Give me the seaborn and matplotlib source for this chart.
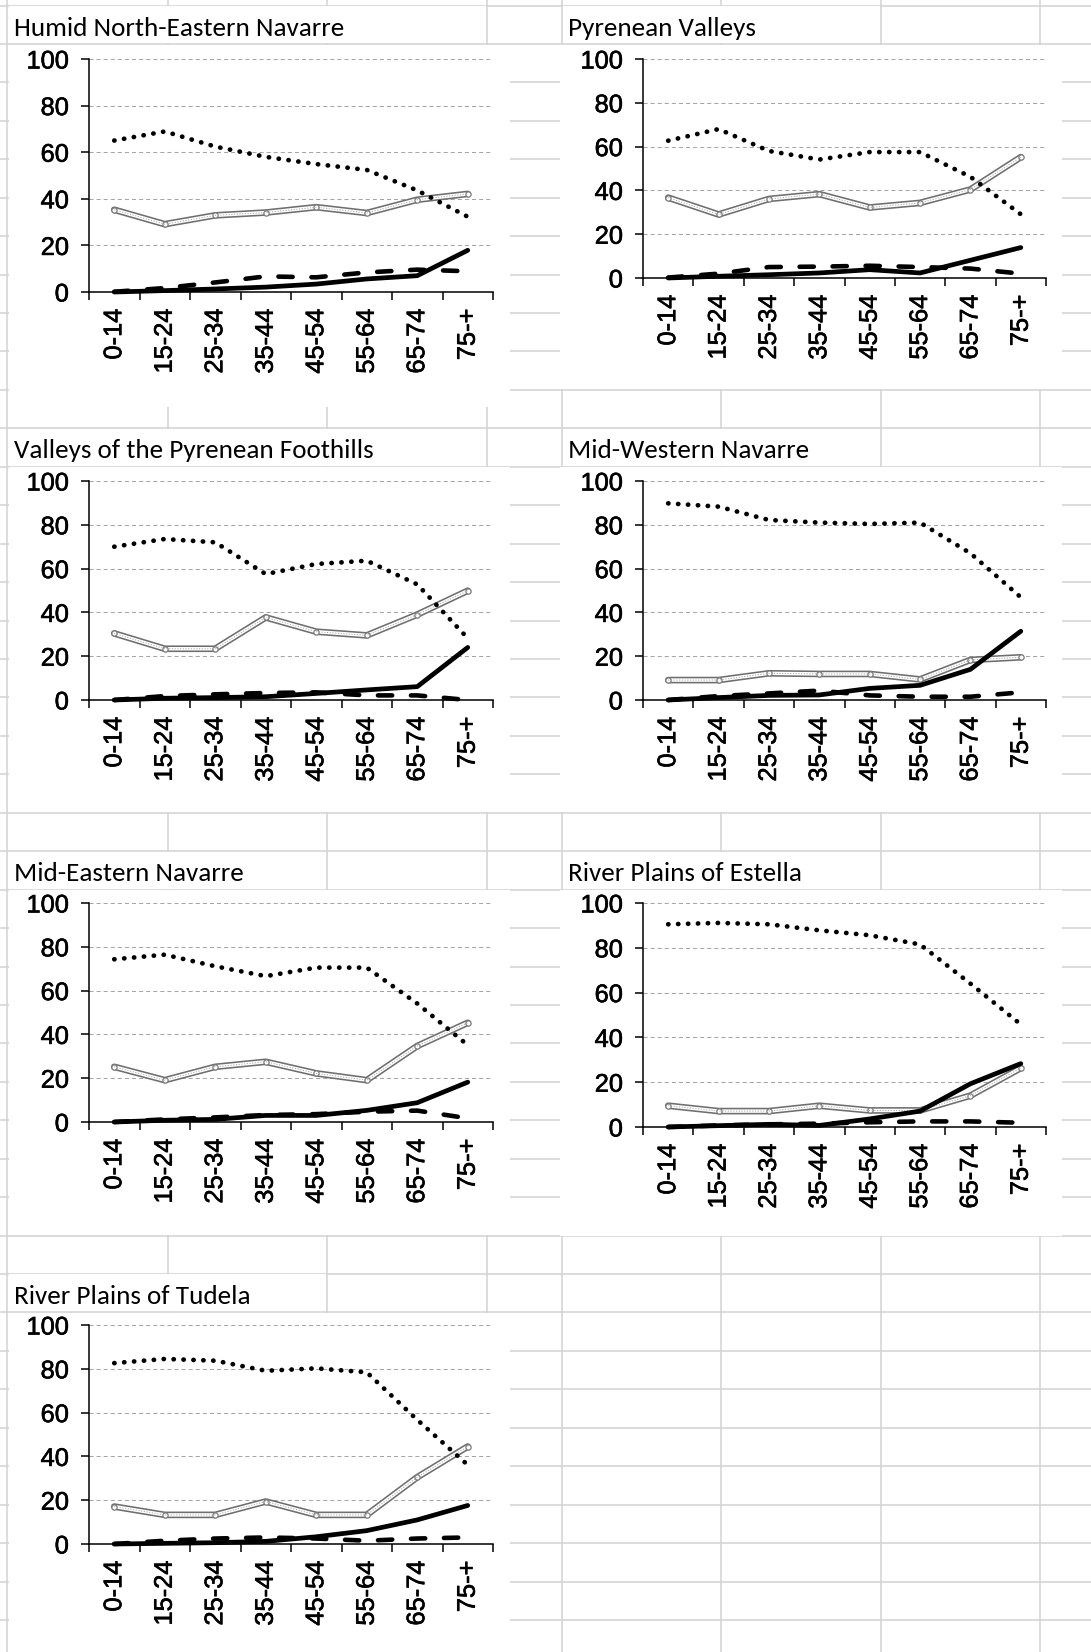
import numpy as np
import pandas as pd
import matplotlib
matplotlib.use("Agg")
import matplotlib.pyplot as plt
import matplotlib.patheffects as pe
import seaborn as sns
from matplotlib.patches import Rectangle

# ---------------- data ----------------
ages = ["0-14", "15-24", "25-34", "35-44", "45-54", "55-64", "65-74", "75-+"]

regions = [
    "Humid North-Eastern Navarre",
    "Pyrenean Valleys",
    "Valleys of the Pyrenean Foothills",
    "Mid-Western Navarre",
    "Mid-Eastern Navarre",
    "River Plains of Estella",
    "River Plains of Tudela",
]

# dotted black series
dotted = {
    "Humid North-Eastern Navarre":       [65.0, 68.9, 62.4, 58.0, 54.9, 52.4, 43.6, 32.3],
    "Pyrenean Valleys":                  [62.7, 68.0, 58.0, 54.1, 57.5, 57.5, 46.2, 29.1],
    "Valleys of the Pyrenean Foothills": [70.0, 73.5, 72.0, 57.5, 62.1, 63.6, 52.8, 28.2],
    "Mid-Western Navarre":               [89.8, 88.3, 82.2, 81.0, 80.4, 81.0, 67.0, 46.9],
    "Mid-Eastern Navarre":               [74.3, 76.4, 71.1, 66.6, 70.5, 70.5, 54.1, 35.1],
    "River Plains of Estella":           [90.5, 91.1, 90.5, 87.8, 85.6, 81.5, 64.0, 45.8],
    "River Plains of Tudela":            [82.6, 84.5, 83.7, 79.1, 80.2, 78.4, 56.7, 36.1],
}

# grey double-line series
double = {
    "Humid North-Eastern Navarre":       [35.3, 29.1, 32.9, 34.1, 36.4, 33.9, 39.6, 42.1],
    "Pyrenean Valleys":                  [36.7, 29.0, 36.1, 38.3, 32.2, 34.3, 40.4, 55.2],
    "Valleys of the Pyrenean Foothills": [30.4, 23.4, 23.4, 37.7, 31.2, 29.5, 39.0, 49.9],
    "Mid-Western Navarre":               [9.1, 9.1, 12.2, 11.9, 11.9, 9.4, 18.3, 19.5],
    "Mid-Eastern Navarre":               [25.2, 19.1, 25.2, 27.5, 22.2, 19.1, 34.7, 45.3],
    "River Plains of Estella":           [9.5, 7.1, 7.1, 9.5, 7.4, 7.4, 14.0, 26.3],
    "River Plains of Tudela":            [17.1, 13.3, 13.3, 19.4, 13.3, 13.3, 30.5, 44.5],
}

# dashed black series
dashed = {
    "Humid North-Eastern Navarre":       [0.1, 1.7, 4.1, 6.7, 6.3, 8.4, 9.6, 8.9],
    "Pyrenean Valleys":                  [0.2, 2.0, 5.0, 5.2, 5.6, 5.0, 4.3, 2.0],
    "Valleys of the Pyrenean Foothills": [0.0, 1.8, 2.6, 3.2, 3.5, 2.1, 2.1, 0.0],
    "Mid-Western Navarre":               [0.0, 1.8, 3.0, 4.3, 2.1, 1.5, 1.5, 3.5],
    "Mid-Eastern Navarre":               [0.0, 1.2, 2.1, 3.2, 3.6, 4.7, 5.2, 1.7],
    "River Plains of Estella":           [0.0, 0.7, 1.2, 1.5, 2.1, 2.5, 2.5, 1.9],
    "River Plains of Tudela":            [0.0, 1.5, 2.5, 3.0, 2.5, 1.5, 2.5, 3.0],
}

# solid black series
solid = {
    "Humid North-Eastern Navarre":       [0.0, 0.6, 1.3, 2.1, 3.4, 5.6, 7.0, 17.9],
    "Pyrenean Valleys":                  [0.0, 0.8, 1.5, 2.3, 3.8, 2.3, 8.1, 13.9],
    "Valleys of the Pyrenean Foothills": [0.0, 0.8, 1.1, 1.5, 3.0, 4.6, 6.1, 24.0],
    "Mid-Western Navarre":               [0.0, 1.1, 2.1, 2.3, 5.3, 6.7, 14.0, 31.4],
    "Mid-Eastern Navarre":               [0.0, 0.8, 1.2, 3.0, 3.0, 5.3, 8.8, 18.2],
    "River Plains of Estella":           [0.0, 0.6, 1.2, 0.7, 3.6, 7.1, 19.3, 28.3],
    "River Plains of Tudela":            [0.0, 0.3, 0.6, 1.2, 3.3, 6.1, 11.0, 17.6],
}

yticks = [0, 20, 40, 60, 80, 100]

# ---------------- layout (pixels) ----------------
W, H = 1091, 1652
sns.set_theme(style="white")
plt.rcParams["font.family"] = ["Liberation Sans", "DejaVu Sans"]
TICK_FONT = ["Liberation Sans", "DejaVu Sans"]
TITLE_FONT = ["Carlito", "Lato", "DejaVu Sans"]
heavier = [pe.withStroke(linewidth=0.45, foreground="black")]

fig = plt.figure(figsize=(W / 100, H / 100), dpi=100)
fig.patch.set_facecolor("white")

# spreadsheet background
bg = fig.add_axes([0, 0, 1, 1], zorder=-10)
bg.set_xlim(0, W)
bg.set_ylim(H, 0)
bg.axis("off")
grid_col = "#d4d4d4"
col_lines = [7, 168, 327, 487, 562, 721, 881, 1040]
row_lines = [5.5 + 38.44 * k for k in range(43)]
for x in col_lines:
    bg.plot([x, x], [0, H], color=grid_col, lw=1.15, zorder=0)
for y in row_lines:
    bg.plot([0, W], [y, y], color=grid_col, lw=1.15, zorder=0)

# chart boxes: (x0, y0, x1, y1)
boxes = [
    (9, 45, 510, 407),
    (560, 45, 1062, 389),
    (9, 467, 510, 812),
    (560, 467, 1062, 812),
    (9, 890, 510, 1235),
    (560, 890, 1062, 1236),
    (9, 1313, 510, 1652),
]
# plot areas: (left, right, top(y=100), bottom(y=0))
plots = [
    (89, 493, 59, 292),
    (643, 1046, 59, 278),
    (89, 493, 481, 700),
    (643, 1046, 481, 700),
    (89, 493, 903, 1122),
    (643, 1046, 903, 1127),
    (89, 493, 1325, 1544),
]
# title cells: (text x, row top, row bottom, overflow cover right edge)
titles = [
    (14, 5.5, 44.0, 486),
    (568, 5.5, 44.0, 880),
    (14, 428.3, 466.7, 486),
    (568, 428.3, 466.7, 880),
    (14, 851.2, 889.6, 326),
    (568, 851.2, 889.6, 880),
    (14, 1273.6, 1312.0, 326),
]

for (x0, y0, x1, y1) in boxes:
    bg.add_patch(Rectangle((x0, y0), x1 - x0, y1 - y0, facecolor="white",
                           edgecolor="none", zorder=1))

for region, (tx, r0, r1, cover) in zip(regions, titles):
    left_edge = 8.5 if tx < 300 else 563
    bg.add_patch(Rectangle((left_edge, r0 + 0.8), cover - left_edge, r1 - r0 - 1.6,
                           facecolor="white", edgecolor="none", zorder=1))
    bg.text(tx, r1 - 8.5, region, fontsize=19.5, family=TITLE_FONT,
            color="black", ha="left", va="baseline", zorder=2)

tick_fs = 18.3

for region, (l, r, t, b) in zip(regions, plots):
    ax = fig.add_axes([l / W, 1 - b / H, (r - l) / W, (b - t) / H])
    ax.set_facecolor("none")
    df = pd.DataFrame({
        "age": ages,
        "dotted": dotted[region],
        "double": double[region],
        "dashed": dashed[region],
        "solid": solid[region],
    })

    # grey double line
    sns.lineplot(data=df, x="age", y="double", ax=ax, sort=False, color="#6e6e6e",
                 lw=4.8, solid_joinstyle="round", solid_capstyle="round",
                 clip_on=False, zorder=3)
    sns.lineplot(data=df, x="age", y="double", ax=ax, sort=False, color="white",
                 lw=2.5, solid_joinstyle="round", solid_capstyle="round",
                 marker="o", markersize=3.8, markeredgecolor="#7a7a7a",
                 markeredgewidth=0.9, clip_on=False, zorder=3.1)
    sns.lineplot(data=df, x="age", y="double", ax=ax, sort=False, color="#a8a8a8",
                 lw=0.7, linestyle=(0, (1.2, 1.6)), clip_on=False, zorder=3.2)

    # dashed
    sns.lineplot(data=df, x="age", y="dashed", ax=ax, sort=False, color="black",
                 lw=3.3, linestyle=(0, (3.1, 4.1)), dash_capstyle="round",
                 dash_joinstyle="round", clip_on=False, zorder=4)
    # solid
    sns.lineplot(data=df, x="age", y="solid", ax=ax, sort=False, color="black",
                 lw=3.4, solid_joinstyle="round", solid_capstyle="round",
                 clip_on=False, zorder=5)
    # dotted
    sns.lineplot(data=df, x="age", y="dotted", ax=ax, sort=False, color="black",
                 lw=3.4, linestyle=(0, (0.05, 2.05)), dash_capstyle="round",
                 clip_on=False, zorder=6)

    ax.set_xlim(-0.5, 7.5)
    ax.set_ylim(0, 100)
    ax.set_xlabel("")
    ax.set_ylabel("")
    ax.set_yticks(yticks)
    ax.set_yticklabels([str(v) for v in yticks])
    ax.set_xticks(range(len(ages)))
    ax.set_xticklabels(ages, rotation=90)
    ax.set_xticks(np.arange(-0.5, len(ages), 1.0), minor=True)

    ax.tick_params(axis="x", which="major", length=0, pad=12, labelsize=tick_fs,
                   labelcolor="black")
    ax.tick_params(axis="x", which="minor", length=5.5, width=1.1, direction="out",
                   color="black", bottom=True)
    ax.tick_params(axis="y", length=5.5, width=1.1, direction="out", pad=9,
                   labelsize=tick_fs, labelcolor="black", color="black", left=True)
    for lab in ax.get_xticklabels() + ax.get_yticklabels():
        lab.set_fontfamily(TICK_FONT)
        lab.set_path_effects(heavier)

    ax.yaxis.grid(True, color="#a6a6a6", lw=0.75, linestyle=(0, (3.9, 2.9)))
    ax.xaxis.grid(False)
    ax.set_axisbelow(True)
    for s in ["top", "right"]:
        ax.spines[s].set_visible(False)
    for s in ["left", "bottom"]:
        ax.spines[s].set_color("black")
        ax.spines[s].set_linewidth(1.1)
        ax.spines[s].set_zorder(2.5)

fig.savefig("out.png", dpi=100, facecolor="white")
